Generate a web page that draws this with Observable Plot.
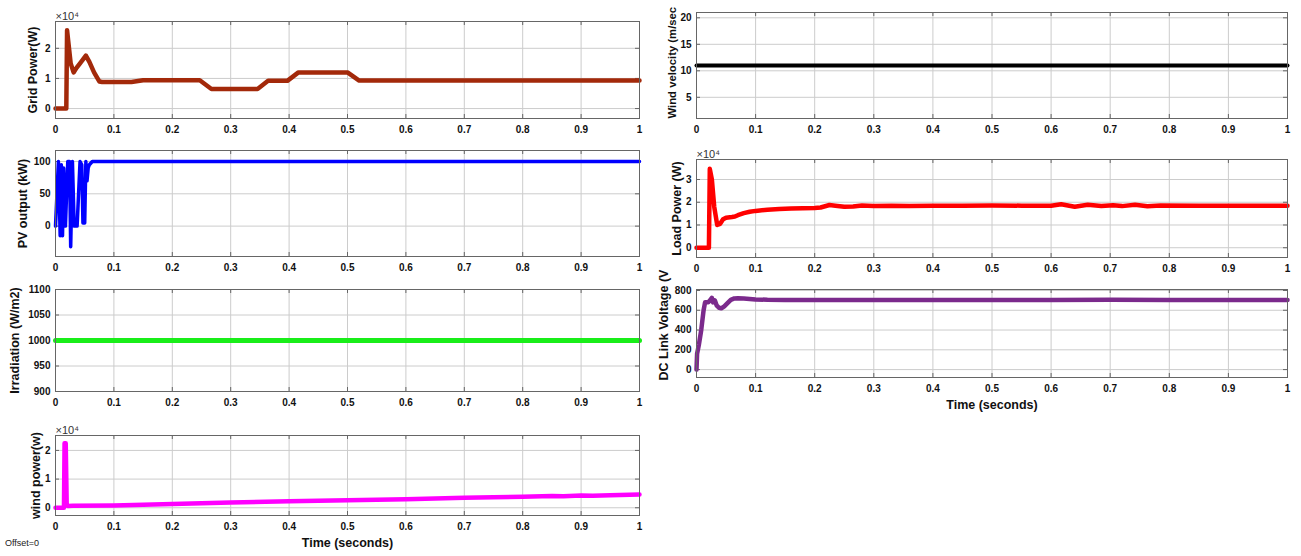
<!DOCTYPE html>
<html><head><meta charset="utf-8">
<script src="https://cdn.jsdelivr.net/npm/d3@7"></script>
<script src="https://cdn.jsdelivr.net/npm/@observablehq/plot@0.6"></script>
<style>
html,body{margin:0;padding:0;background:#fff;}
#root{position:relative;width:1301px;height:556px;overflow:hidden;font-family:"Liberation Sans",Arial,sans-serif;background:#fff;}
.panel{position:absolute;}
#offset{position:absolute;left:5px;top:538px;font-size:9px;color:#222;}
</style></head><body><div id="root"><div id="offset">Offset=0</div></div>
<script>
const timeTicks = [0, 0.1, 0.2, 0.3, 0.4, 0.5, 0.6, 0.7, 0.8, 0.9, 1];

// Grid Power (W)
const gridPowerTime  = [0, 0.0185, 0.0198, 0.022, 0.026, 0.031, 0.036, 0.042, 0.052, 0.058, 0.066, 0.075, 0.08, 0.13, 0.15, 0.247, 0.267, 0.346, 0.364, 0.397, 0.416, 0.5, 0.52, 1];
const gridPowerValue = [0, 0, 26000, 22000, 15000, 12000, 13500, 15000, 17600, 15500, 12000, 9000, 8800, 8800, 9400, 9400, 6500, 6500, 9200, 9200, 12000, 12000, 9300, 9300];
const gridPowerTicks = [0, 10000, 20000];

// PV output (kW)
const pvTime  = [0, 0.003, 0.005, 0.008, 0.010, 0.012, 0.014, 0.017, 0.021, 0.024, 0.026, 0.029, 0.032, 0.037, 0.042, 0.045, 0.047, 0.050, 0.052, 0.054, 0.056, 0.058, 0.063, 0.3, 0.6, 1];
const pvValue = [0, 60, 100, -15, 95, -15, 90, 0, 100, 100, -32, 100, 0, 0, 100, 95, 5, 5, 100, 70, 90, 95, 100, 100, 100, 100];
const pvTicks = [0, 50, 100];

// Irradiation (W/m2)
const irrTime  = [0, 1];
const irrValue = [1000, 1000];
const irrTicks = [900, 950, 1000, 1050, 1100];

// wind power (W)
const windPowerTime  = [0, 0.0145, 0.0155, 0.0175, 0.0192, 0.021, 0.03, 0.1, 0.2, 0.3, 0.4, 0.5, 0.6, 0.7, 0.75, 0.8, 0.85, 0.87, 0.9, 0.92, 0.95, 1];
const windPowerValue = [0, 0, 22500, 22500, 1200, 600, 700, 800, 1300, 1800, 2300, 2600, 3000, 3500, 3700, 3800, 4100, 4000, 4300, 4200, 4400, 4600];
const windPowerTicks = [0, 10000, 20000];

// Wind velocity (m/sec)
const windVelTime  = [0, 1];
const windVelValue = [11, 11];
const windVelTicks = [5, 10, 15, 20];

// Load Power (W)
const loadTime  = [0, 0.021, 0.0225, 0.026, 0.03, 0.035, 0.04, 0.045, 0.05, 0.06, 0.065, 0.07, 0.08, 0.09, 0.1, 0.12, 0.14, 0.16, 0.18, 0.2, 0.21, 0.225, 0.235, 0.25, 0.265, 0.28, 0.3, 0.33, 0.36, 0.4, 0.45, 0.5, 0.55, 0.6, 0.617, 0.64, 0.662, 0.685, 0.705, 0.72, 0.742, 0.763, 0.785, 0.85, 0.9, 0.95, 1];
const loadValue = [0, 0, 34700, 30000, 18000, 10000, 10500, 12500, 13200, 13500, 13700, 14300, 15200, 15800, 16200, 16700, 17000, 17200, 17400, 17500, 17700, 18800, 18500, 18000, 18100, 18600, 18300, 18500, 18400, 18500, 18500, 18600, 18500, 18500, 19100, 18000, 18900, 18300, 18700, 18300, 18900, 18200, 18600, 18500, 18500, 18500, 18500];
const loadTicks = [0, 10000, 20000, 30000];

// DC Link Voltage (V)
const dcTime  = [0, 0.001, 0.004, 0.008, 0.012, 0.0145, 0.02, 0.023, 0.026, 0.028, 0.031, 0.034, 0.038, 0.042, 0.047, 0.052, 0.058, 0.064, 0.07, 0.08, 0.09, 0.1, 0.12, 0.15, 0.2, 0.3, 0.4, 0.5, 0.6, 0.7, 0.8, 0.9, 1];
const dcValue = [0, 160, 250, 400, 600, 680, 680, 700, 725, 680, 700, 650, 625, 620, 640, 670, 705, 720, 722, 720, 715, 710, 706, 704, 704, 704, 705, 704, 705, 706, 704, 705, 704];
const dcTicks = [0, 200, 400, 600, 800];

const fmtTime = d => String(+d.toFixed(1));
const fmtE4 = d => String(d / 10000);
const fmtPlain = d => String(d);

const root = document.getElementById("root");

function panel(o) {
  const data = o.time.map((t, i) => ({t, v: o.value[i]}));
  const fw = o.width - o.ml - o.mr;
  const fh = o.height - o.mt - o.mb;
  const tk = 4;
  const marks = [
    Plot.gridX(timeTicks, {stroke: "#cccccc", strokeOpacity: 1}),
    Plot.gridY(o.yTicks, {stroke: "#cccccc", strokeOpacity: 1}),
    Plot.tickX(timeTicks, {x: d => d, stroke: "#666", insetTop: fh - tk}),
    Plot.tickX(timeTicks, {x: d => d, stroke: "#666", insetBottom: fh - tk}),
    Plot.tickY(o.yTicks, {y: d => d, stroke: "#666", insetRight: fw - tk}),
    Plot.tickY(o.yTicks, {y: d => d, stroke: "#666", insetLeft: fw - tk}),
    Plot.axisX(timeTicks, {tickSize: 0, tickPadding: 7, fontSize: 10, fontWeight: "bold", tickFormat: fmtTime, label: null, fill: "#111"}),
    Plot.axisY(o.yTicks, {tickSize: 0, tickPadding: 5, fontSize: 10, fontWeight: "bold", tickFormat: o.yFmt, label: null, fill: "#111"}),
    Plot.line(data, {x: "t", y: "v", stroke: o.color, strokeWidth: o.sw, strokeLinejoin: "round", strokeLinecap: "round"}),
    Plot.frame({stroke: "#666"}),
    Plot.text([o.label], {
      frameAnchor: o.labelAnchor || "left", textAnchor: o.labelAnchor ? "start" : "middle", lineAnchor: "middle",
      rotate: -90, dx: o.labelDx, dy: o.labelDy || 0, fontSize: o.labelSize || 12.5, fontWeight: "bold", fill: "#111"
    })
  ];
  if (o.exp) marks.push(Plot.text([o.exp], {frameAnchor: "top-left", textAnchor: "start", lineAnchor: "bottom", dy: -2, fontSize: 11, fill: "#333"}));
  if (o.xTitle) marks.push(Plot.text([o.xTitle], {frameAnchor: "bottom", lineAnchor: "middle", dy: 27, fontSize: 12.5, fontWeight: "bold", fill: "#111"}));
  const p = Plot.plot({
    width: o.width, height: o.height,
    marginTop: o.mt, marginBottom: o.mb, marginLeft: o.ml, marginRight: o.mr,
    style: {background: "transparent", fontFamily: "Liberation Sans, Arial, sans-serif", overflow: "visible", color: "#111"},
    x: {domain: [0, 1]},
    y: {domain: o.yDomain},
    marks
  });
  p.classList.add("panel");
  p.style.left = o.left + "px";
  p.style.top = o.top + "px";
  root.appendChild(p);
}

// Left column
panel({left: 0, top: 0, width: 650, height: 140, mt: 21, mb: 22, ml: 55, mr: 11,
  time: gridPowerTime, value: gridPowerValue, yDomain: [-3300, 28900], yTicks: gridPowerTicks, yFmt: fmtE4,
  label: "Grid Power(W)", labelDx: -23, color: "#a3290a", sw: 4.5, exp: "×10⁴"});
panel({left: 0, top: 130, width: 650, height: 150, mt: 20, mb: 24, ml: 55, mr: 11,
  time: pvTime, value: pvValue, yDomain: [-47, 117], yTicks: pvTicks, yFmt: fmtPlain,
  label: "PV output (kW)", labelDx: -33, color: "#0000ff", sw: 3.5});
panel({left: 0, top: 270, width: 650, height: 145, mt: 19, mb: 24, ml: 55, mr: 11,
  time: irrTime, value: irrValue, yDomain: [900, 1100], yTicks: irrTicks, yFmt: fmtPlain,
  label: "Irradiation (W/m2)", labelDx: -41, color: "#19ee19", sw: 5});
panel({left: 0, top: 415, width: 650, height: 141, mt: 20, mb: 41, ml: 55, mr: 11,
  time: windPowerTime, value: windPowerValue, yDomain: [-2700, 25200], yTicks: windPowerTicks, yFmt: fmtE4,
  label: "wind power(w)", labelDx: -20, color: "#ff00ff", sw: 4.5, exp: "×10⁴", xTitle: "Time (seconds)"});

// Right column
panel({left: 650, top: 0, width: 651, height: 140, mt: 12, mb: 22, ml: 46, mr: 14,
  time: windVelTime, value: windVelValue, yDomain: [1, 21], yTicks: windVelTicks, yFmt: fmtPlain,
  label: "Wind velocity (m/sec", labelAnchor: "bottom-left", labelDx: -24, labelDy: 0, labelSize: 11.3, color: "#000000", sw: 4});
panel({left: 650, top: 140, width: 651, height: 140, mt: 19, mb: 23, ml: 46, mr: 14,
  time: loadTime, value: loadValue, yDomain: [-4300, 38800], yTicks: loadTicks, yFmt: fmtE4,
  label: "Load Power (W)", labelDx: -20, color: "#ff0000", sw: 4.5, exp: "×10⁴"});
panel({left: 650, top: 280, width: 651, height: 140, mt: 9, mb: 43, ml: 46, mr: 14,
  time: dcTime, value: dcValue, yDomain: [-80, 810], yTicks: dcTicks, yFmt: fmtPlain,
  label: "DC Link Voltage (V", labelAnchor: "bottom-left", labelDx: -33, labelDy: 3, color: "#7b2a8c", sw: 4.5, xTitle: "Time (seconds)"});
</script></body></html>
